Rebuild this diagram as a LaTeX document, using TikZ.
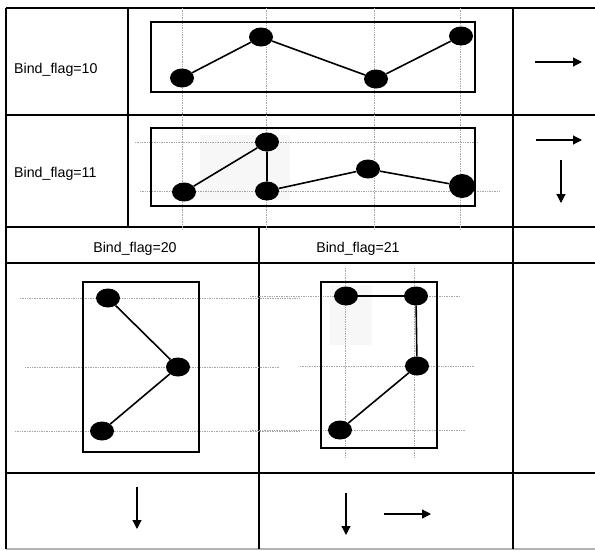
\documentclass[tikz,border=0pt]{standalone}
\usepackage{fontspec}
\setmainfont{Liberation Sans}
\usetikzlibrary{shapes.geometric,arrows.meta}
\begin{document}
\begin{tikzpicture}[x=1pt,y=-1pt,
  grid/.style={line width=1.3pt,black},
  frame/.style={line width=1.4pt,black},
  guide/.style={densely dotted,line width=0.7pt,gray!70},
  dot/.style={ellipse,fill=black,minimum width=24pt,minimum height=19pt,inner sep=0pt},
  bigdot/.style={ellipse,fill=black,minimum width=26pt,minimum height=24pt,inner sep=0pt},
  link/.style={line width=1.6pt,black},
  arr/.style={line width=1.2pt,-{Triangle[length=9pt,width=9pt]}},
  lbl/.style={font=\fontsize{14.2}{16}\selectfont,inner sep=0pt}]
\useasboundingbox (0,0) rectangle (595,550);
\fill[white] (0,0) rectangle (595,550);
% faint scan shading
\fill[gray!6] (200,135) rectangle (290,200);
\fill[gray!6] (330,285) rectangle (372,345);
% table grid
\draw[grid] (6,8) -- (595,8);
\draw[grid] (6,115) -- (595,115);
\draw[grid] (6,227) -- (595,227);
\draw[grid] (6,263) -- (595,263);
\draw[grid] (6,473) -- (595,473);
\draw[grid,gray!60] (6,549) -- (595,549);
\draw[grid] (6,8) -- (6,549);
\draw[grid] (128,8) -- (128,227);
\draw[grid] (513,8) -- (513,549);
\draw[grid] (259,227) -- (259,549);
% labels
\node[lbl,anchor=west] (l10) at (14,70) {Bind\_flag=10};
\node[lbl,anchor=west] (l11) at (14,174) {Bind\_flag=11};
\node[lbl] (l20) at (135,249) {Bind\_flag=20};
\node[lbl] (l21) at (358,249) {Bind\_flag=21};
% guides top
\foreach \gx in {182,266,374,460} \draw[guide] (\gx,8) -- (\gx,230);
\draw[guide] (135,142) -- (478,142);
\draw[guide] (140,191) -- (500,191);
% guides bottom
\draw[guide] (345,268) -- (345,458);
\draw[guide] (414,268) -- (414,458);
\draw[guide] (20,298) -- (300,298);
\draw[guide] (25,367) -- (280,367);
\draw[guide] (15,431) -- (300,431);
\draw[guide] (250,296) -- (460,296);
\draw[guide] (300,366) -- (475,366);
\draw[guide] (250,430) -- (465,430);
% frames
\draw[frame] (151,22) rectangle (475,92);
\draw[frame] (151,128) rectangle (475,206);
\draw[frame] (83,282) rectangle (199,452);
\draw[frame] (321,282) rectangle (437,448);
% row 10
\node[dot] (a1) at (182,78) {};
\node[dot] (a2) at (261,37) {};
\node[dot] (a3) at (376,79) {};
\node[dot] (a4) at (461,36) {};
\draw[link] (a1) -- (a2) -- (a3) -- (a4);
% row 11
\node[dot] (b1) at (184,192) {};
\node[dot] (b2) at (267,142) {};
\node[dot] (b3) at (267,191) {};
\node[dot] (b4) at (368,169) {};
\node[bigdot] (b5) at (462,186) {};
\draw[link] (b1) -- (b2) -- (b3) -- (b4) -- (b5);
% flag 20
\node[dot] (c1) at (108,298) {};
\node[dot] (c2) at (178,367) {};
\node[dot] (c3) at (102,431) {};
\draw[link] (c1) -- (c2) -- (c3);
% flag 21
\node[dot] (d1) at (346,296) {};
\node[dot] (d2) at (416,296) {};
\node[dot] (d3) at (417,366) {};
\node[dot] (d4) at (340,430) {};
\draw[link] (d1) -- (d2) -- (d3) -- (d4);
% arrows
\coordinate (r1s) at (535,62); \coordinate (r1e) at (582,62);
\draw[arr] (r1s) -- (r1e);
\coordinate (r2s) at (536,140); \coordinate (r2e) at (582,140);
\draw[arr] (r2s) -- (r2e);
\coordinate (r3s) at (561,160); \coordinate (r3e) at (561,203);
\draw[arr] (r3s) -- (r3e);
\coordinate (r4s) at (137,487); \coordinate (r4e) at (137,529);
\draw[arr] (r4s) -- (r4e);
\coordinate (r5s) at (346,493); \coordinate (r5e) at (346,535);
\draw[arr] (r5s) -- (r5e);
\coordinate (r6s) at (384,514); \coordinate (r6e) at (431,514);
\draw[arr] (r6s) -- (r6e);
\end{tikzpicture}
\end{document}
